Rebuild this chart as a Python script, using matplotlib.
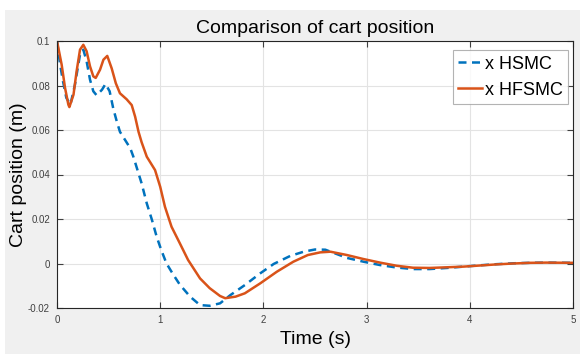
import matplotlib.pyplot as plt
from matplotlib.patches import Rectangle

plt.rcParams['font.family'] = ['Liberation Sans', 'DejaVu Sans']

# time (s) and cart position (m)
t_hsmc = [0, 0.03, 0.058, 0.09, 0.13, 0.174, 0.223, 0.255, 0.287, 0.32, 0.352, 0.384,
          0.436, 0.47, 0.51, 0.545, 0.58, 0.61, 0.66, 0.71, 0.74, 0.78, 0.82, 0.87,
          0.92, 0.966, 1.01, 1.06, 1.12, 1.19, 1.24, 1.29, 1.386, 1.48, 1.58, 1.68,
          1.82, 1.97, 2.1, 2.26, 2.39, 2.5, 2.6, 2.81, 2.97, 3.13, 3.29, 3.45, 3.61,
          3.78, 3.94, 4.1, 4.26, 4.42, 4.58, 4.74, 5.0]
x_hsmc = [0.1, 0.0895, 0.0819, 0.0745, 0.0714, 0.0804, 0.0939, 0.0961, 0.0909, 0.0826, 0.0774, 0.0756,
          0.0781, 0.0807, 0.0774, 0.0697, 0.0637, 0.0592, 0.0555, 0.0518, 0.048, 0.042, 0.036, 0.027,
          0.0196, 0.012, 0.0061, 0.0001, -0.0045, -0.0095, -0.0122, -0.0149, -0.0187, -0.019, -0.0179, -0.0142,
          -0.0097, -0.0044, -0.0002, 0.0034, 0.0053, 0.0063, 0.0062, 0.0025, 0.0008, -0.0007, -0.0018, -0.0025, -0.0025,
          -0.002, -0.0014, -0.0008, -0.0003, 0.0001, 0.0003, 0.0004, 0.0003]

t_hfsmc = [0, 0.045, 0.078, 0.11, 0.12, 0.16, 0.19, 0.223, 0.255, 0.287, 0.32, 0.352,
           0.375, 0.417, 0.45, 0.487, 0.53, 0.57, 0.61, 0.675, 0.724, 0.757, 0.79, 0.82,
           0.87, 0.95, 1.0, 1.046, 1.11, 1.19, 1.27, 1.386, 1.48, 1.58, 1.63, 1.73,
           1.82, 1.97, 2.13, 2.29, 2.43, 2.55, 2.65, 2.81, 2.97, 3.13, 3.29, 3.45, 3.61,
           3.78, 3.94, 4.1, 4.26, 4.42, 4.58, 4.74, 5.0]
x_hfsmc = [0.1, 0.0894, 0.0789, 0.0714, 0.0703, 0.0759, 0.0864, 0.0961, 0.0983, 0.0954, 0.0886, 0.0841,
           0.0834, 0.0871, 0.0916, 0.0933, 0.0877, 0.081, 0.0765, 0.0738, 0.0712, 0.066, 0.0592, 0.0545,
           0.048, 0.042, 0.0345, 0.0255, 0.0165, 0.0091, 0.0016, -0.0067, -0.0111, -0.0146, -0.0156, -0.0149,
           -0.0134, -0.0089, -0.0037, 0.0008, 0.0038, 0.005, 0.0053, 0.0038, 0.002, 0.0004, -0.001, -0.0019, -0.002,
           -0.0017, -0.0014, -0.0009, -0.0004, 0.0, 0.0003, 0.0004, 0.0003]

fig = plt.figure(figsize=(5.8, 3.54), dpi=100, facecolor='white')
fig.patches.append(Rectangle((5 / 580, 0), 1, 1 - 10 / 354, transform=fig.transFigure,
                             facecolor='#f0f0f0', edgecolor='none', zorder=-1))
ax = fig.add_axes([57 / 580, 1 - 308 / 354, 516 / 580, 267 / 354])

ax.plot(t_hsmc, x_hsmc, '--', color='#0072BD', lw=1.8, dashes=(3.2, 2.2), label='x HSMC')
ax.plot(t_hfsmc, x_hfsmc, '-', color='#D95319', lw=1.8, label='x HFSMC')

ax.set_xlim(0, 5)
ax.set_ylim(-0.02, 0.1)
ax.set_xticks([0, 1, 2, 3, 4, 5])
ax.set_yticks([-0.02, 0, 0.02, 0.04, 0.06, 0.08, 0.1])
ax.set_yticklabels(['-0.02', '0', '0.02', '0.04', '0.06', '0.08', '0.1'])
ax.grid(True, color='#e3e3e3', lw=0.8)
ax.set_axisbelow(True)
ax.tick_params(direction='in', top=True, right=True, labelsize=7, colors='#404040',
               length=4, width=0.8, pad=5)
for s in ax.spines.values():
    s.set_color('#262626')
    s.set_linewidth(0.8)

ax.set_title('Comparison of cart position', fontsize=14, pad=6)
ax.set_xlabel('Time (s)', fontsize=14, labelpad=4)
ax.set_ylabel('Cart position (m)', fontsize=14)
ax.yaxis.set_label_coords(-30 / 516, 0.5)

leg = ax.legend(loc='upper right', fontsize=13, handlelength=1.3, handletextpad=0.15,
                borderpad=0.3, labelspacing=0.5, fancybox=False,
                bbox_to_anchor=(0.99, 0.965), borderaxespad=0)
leg.get_frame().set_edgecolor('#a0a0a0')
leg.get_frame().set_linewidth(0.8)

fig.savefig('out.png', dpi=100)
